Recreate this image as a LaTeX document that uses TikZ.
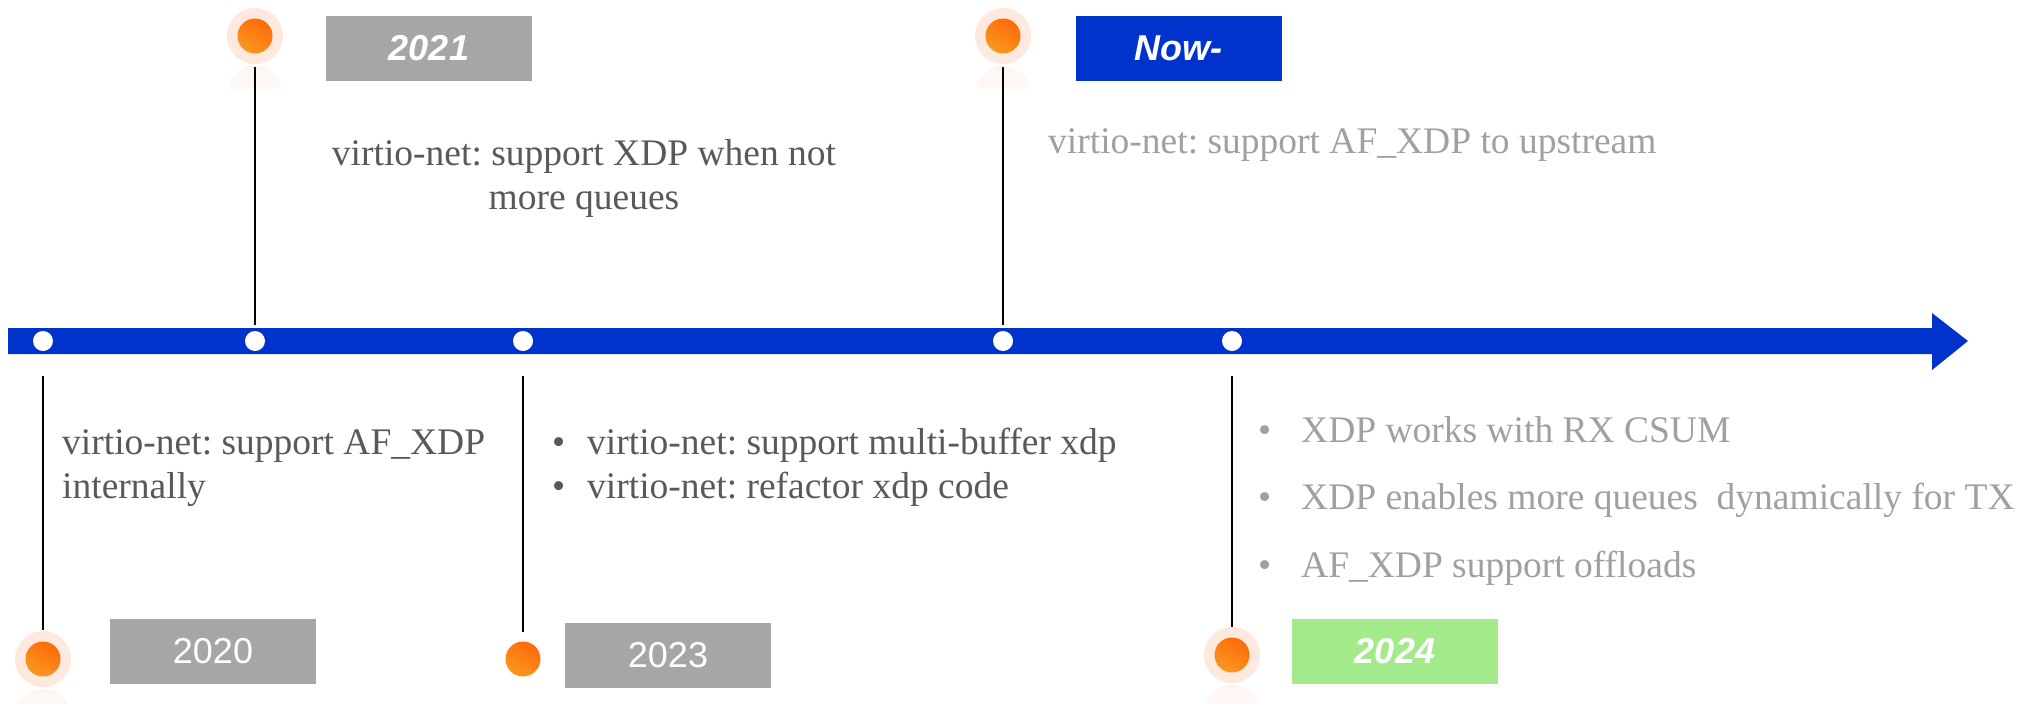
\documentclass[tikz,border=0pt]{standalone}
\usepackage{fontspec}
\setmainfont{Liberation Serif}
\newfontfamily\yearfont{Liberation Sans}
\definecolor{barblue}{HTML}{0033CC}
\definecolor{boxgray}{HTML}{A6A6A6}
\definecolor{boxgreen}{HTML}{A3EA8A}
\definecolor{darktext}{HTML}{595959}
\definecolor{lighttext}{HTML}{A0A0A0}
\definecolor{halo}{HTML}{FDE9DD}
\definecolor{ballhi}{HTML}{FF6A0A}
\definecolor{balllo}{HTML}{F99820}
\frenchspacing
\begin{document}
\begin{tikzpicture}[x=1pt,y=-1pt,
  wdot/.style={circle, fill=white, minimum size=20pt, inner sep=0pt},
  halodisc/.style={circle, fill=halo, minimum size=56pt, inner sep=0pt},
  ball/.style={circle, minimum size=35pt, inner sep=0pt,
    top color=ballhi, bottom color=balllo, shading angle=-30},
  stem/.style={line width=2pt, black},
  yearbox/.style={minimum width=206pt, minimum height=65pt, inner sep=0pt,
    text=white, font=\yearfont\fontsize{36}{40}\selectfont},
  boldyear/.style={yearbox, font=\yearfont\bfseries\itshape\fontsize{36}{40}\selectfont},
  note/.style={inner sep=0pt, text=darktext, font=\fontsize{37.5}{44}\selectfont},
  faint/.style={note, text=lighttext}
]
\useasboundingbox (0,0) rectangle (2040,704);

% timeline bar with its arrow head
\fill[barblue] (8,328) -- (1932,328) -- (1932,313) -- (1968,341)
  -- (1932,370) -- (1932,354) -- (8,354) -- cycle;

% points on the bar
\node[wdot] (d2020) at (43,341) {};
\node[wdot] (d2021) at (255,341) {};
\node[wdot] (d2023) at (523,341) {};
\node[wdot] (dnow)  at (1003,341) {};
\node[wdot] (d2024) at (1232,341) {};

% faint reflections under the haloed markers
\foreach \x/\y in {255/36, 1003/36, 43/659, 1232/655}{
  \begin{scope}
    \clip (\x-30,\y+29) rectangle (\x+30,\y+52);
    \shade[top color=halo!45, bottom color=white] (\x,\y+58) circle (28);
  \end{scope}
}

% markers
\node[halodisc] (h2021) at (255,36) {};
\node[ball] at (h2021) {};
\node[halodisc] (hnow) at (1003,36) {};
\node[ball] at (hnow) {};
\node[halodisc] (h2020) at (43,659) {};
\node[ball] at (h2020) {};
\node[ball] (h2023) at (523,659) {};
\node[halodisc] (h2024) at (1232,655) {};
\node[ball] at (h2024) {};

% stems
\draw[stem, shorten <=3pt, shorten >=6pt] (h2021) -- (d2021);
\draw[stem, shorten <=3pt, shorten >=6pt] (hnow) -- (dnow);
\draw[stem, shorten <=25pt, shorten >=1pt] (d2020) -- (h2020);
\draw[stem, shorten <=25pt, shorten >=9pt] (d2023) -- (h2023);
\draw[stem, shorten <=25pt] (d2024) -- (h2024);

% year labels
\node[boldyear, fill=boxgray] (y2021) at (429,48.5) {2021};
\node[boldyear, fill=barblue] (ynow) at (1178.5,48.5) {Now-};
\node[yearbox, fill=boxgray] (y2020) at (213,651) {2020};
\node[yearbox, fill=boxgray] (y2023) at (668,655.5) {2023};
\node[boldyear, fill=boxgreen] (y2024) at (1395,651) {2024};

% notes (base anchor sits on the last line)
\node[note, align=center, anchor=base] (n2021) at (584,209)
  {virtio-net: support XDP when not\\more queues};
\node[faint, anchor=base west] (nnow) at (1048,153)
  {virtio-net: support AF\_XDP to upstream};
\node[note, align=left, anchor=base west] (n2020) at (62,498)
  {virtio-net: support AF\_XDP\\internally};
\node[note, align=left, anchor=base west] (n2023) at (552,498)
  {\makebox[35pt][l]{•}virtio-net: support multi-buffer xdp\\
   \makebox[35pt][l]{•}virtio-net: refactor xdp code};
\node[faint, align=left, anchor=base west, font=\fontsize{37.5}{67.5}\selectfont] (n2024) at (1258,577)
  {\makebox[43pt][l]{•}XDP works with RX CSUM\\
   \makebox[43pt][l]{•}XDP enables more queues\ \ dynamically for TX\\
   \makebox[43pt][l]{•}AF\_XDP support offloads};
\end{tikzpicture}
\end{document}
